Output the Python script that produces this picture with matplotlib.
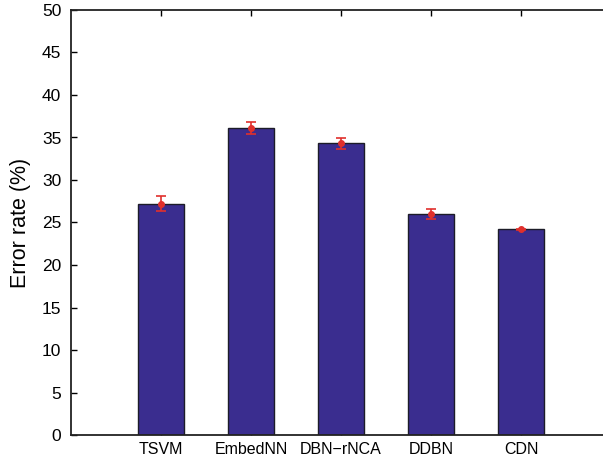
import numpy as np
import matplotlib
matplotlib.use("Agg")
import matplotlib.pyplot as plt

# Data
methods = ["TSVM", "EmbedNN", "DBN\u2212rNCA", "DDBN", "CDN"]
error_rate = [27.2, 36.1, 34.3, 26.0, 24.2]
error_std = [0.9, 0.68, 0.66, 0.62, 0.08]
y_ticks = [0, 5, 10, 15, 20, 25, 30, 35, 40, 45, 50]

plt.rcParams['font.family'] = ['Liberation Sans', 'DejaVu Sans']

fig = plt.figure(figsize=(6.03, 4.61), dpi=100)
# axes run past the right edge, like the cropped original
ax = fig.add_axes([71 / 603, 26 / 461, 540 / 603, 425 / 461])

x = np.arange(1, len(methods) + 1)
ax.bar(x, error_rate, width=0.51, color='#3a2d8f',
       edgecolor='#1c1c28', linewidth=1.0, zorder=2)
ax.errorbar(x, error_rate, yerr=error_std, fmt='o', color='#e0302c',
            markersize=4, elinewidth=1.2, capsize=3.5, capthick=1.2, zorder=3)

ax.set_xlim(0, 6)
ax.set_ylim(0, 50)
ax.set_xticks(x)
ax.set_xticklabels(methods, fontsize=11.5)
ax.set_yticks(y_ticks)
ax.tick_params(axis='y', labelsize=12.5, direction='in', length=4, width=1, pad=7)
ax.tick_params(axis='x', direction='in', length=4, width=1, top=True, pad=5)
ax.set_ylabel("Error rate (%)", fontsize=15.5, labelpad=8)

for s in ax.spines.values():
    s.set_linewidth(1.3)
    s.set_color('#222222')

fig.savefig("out.png", dpi=100)
